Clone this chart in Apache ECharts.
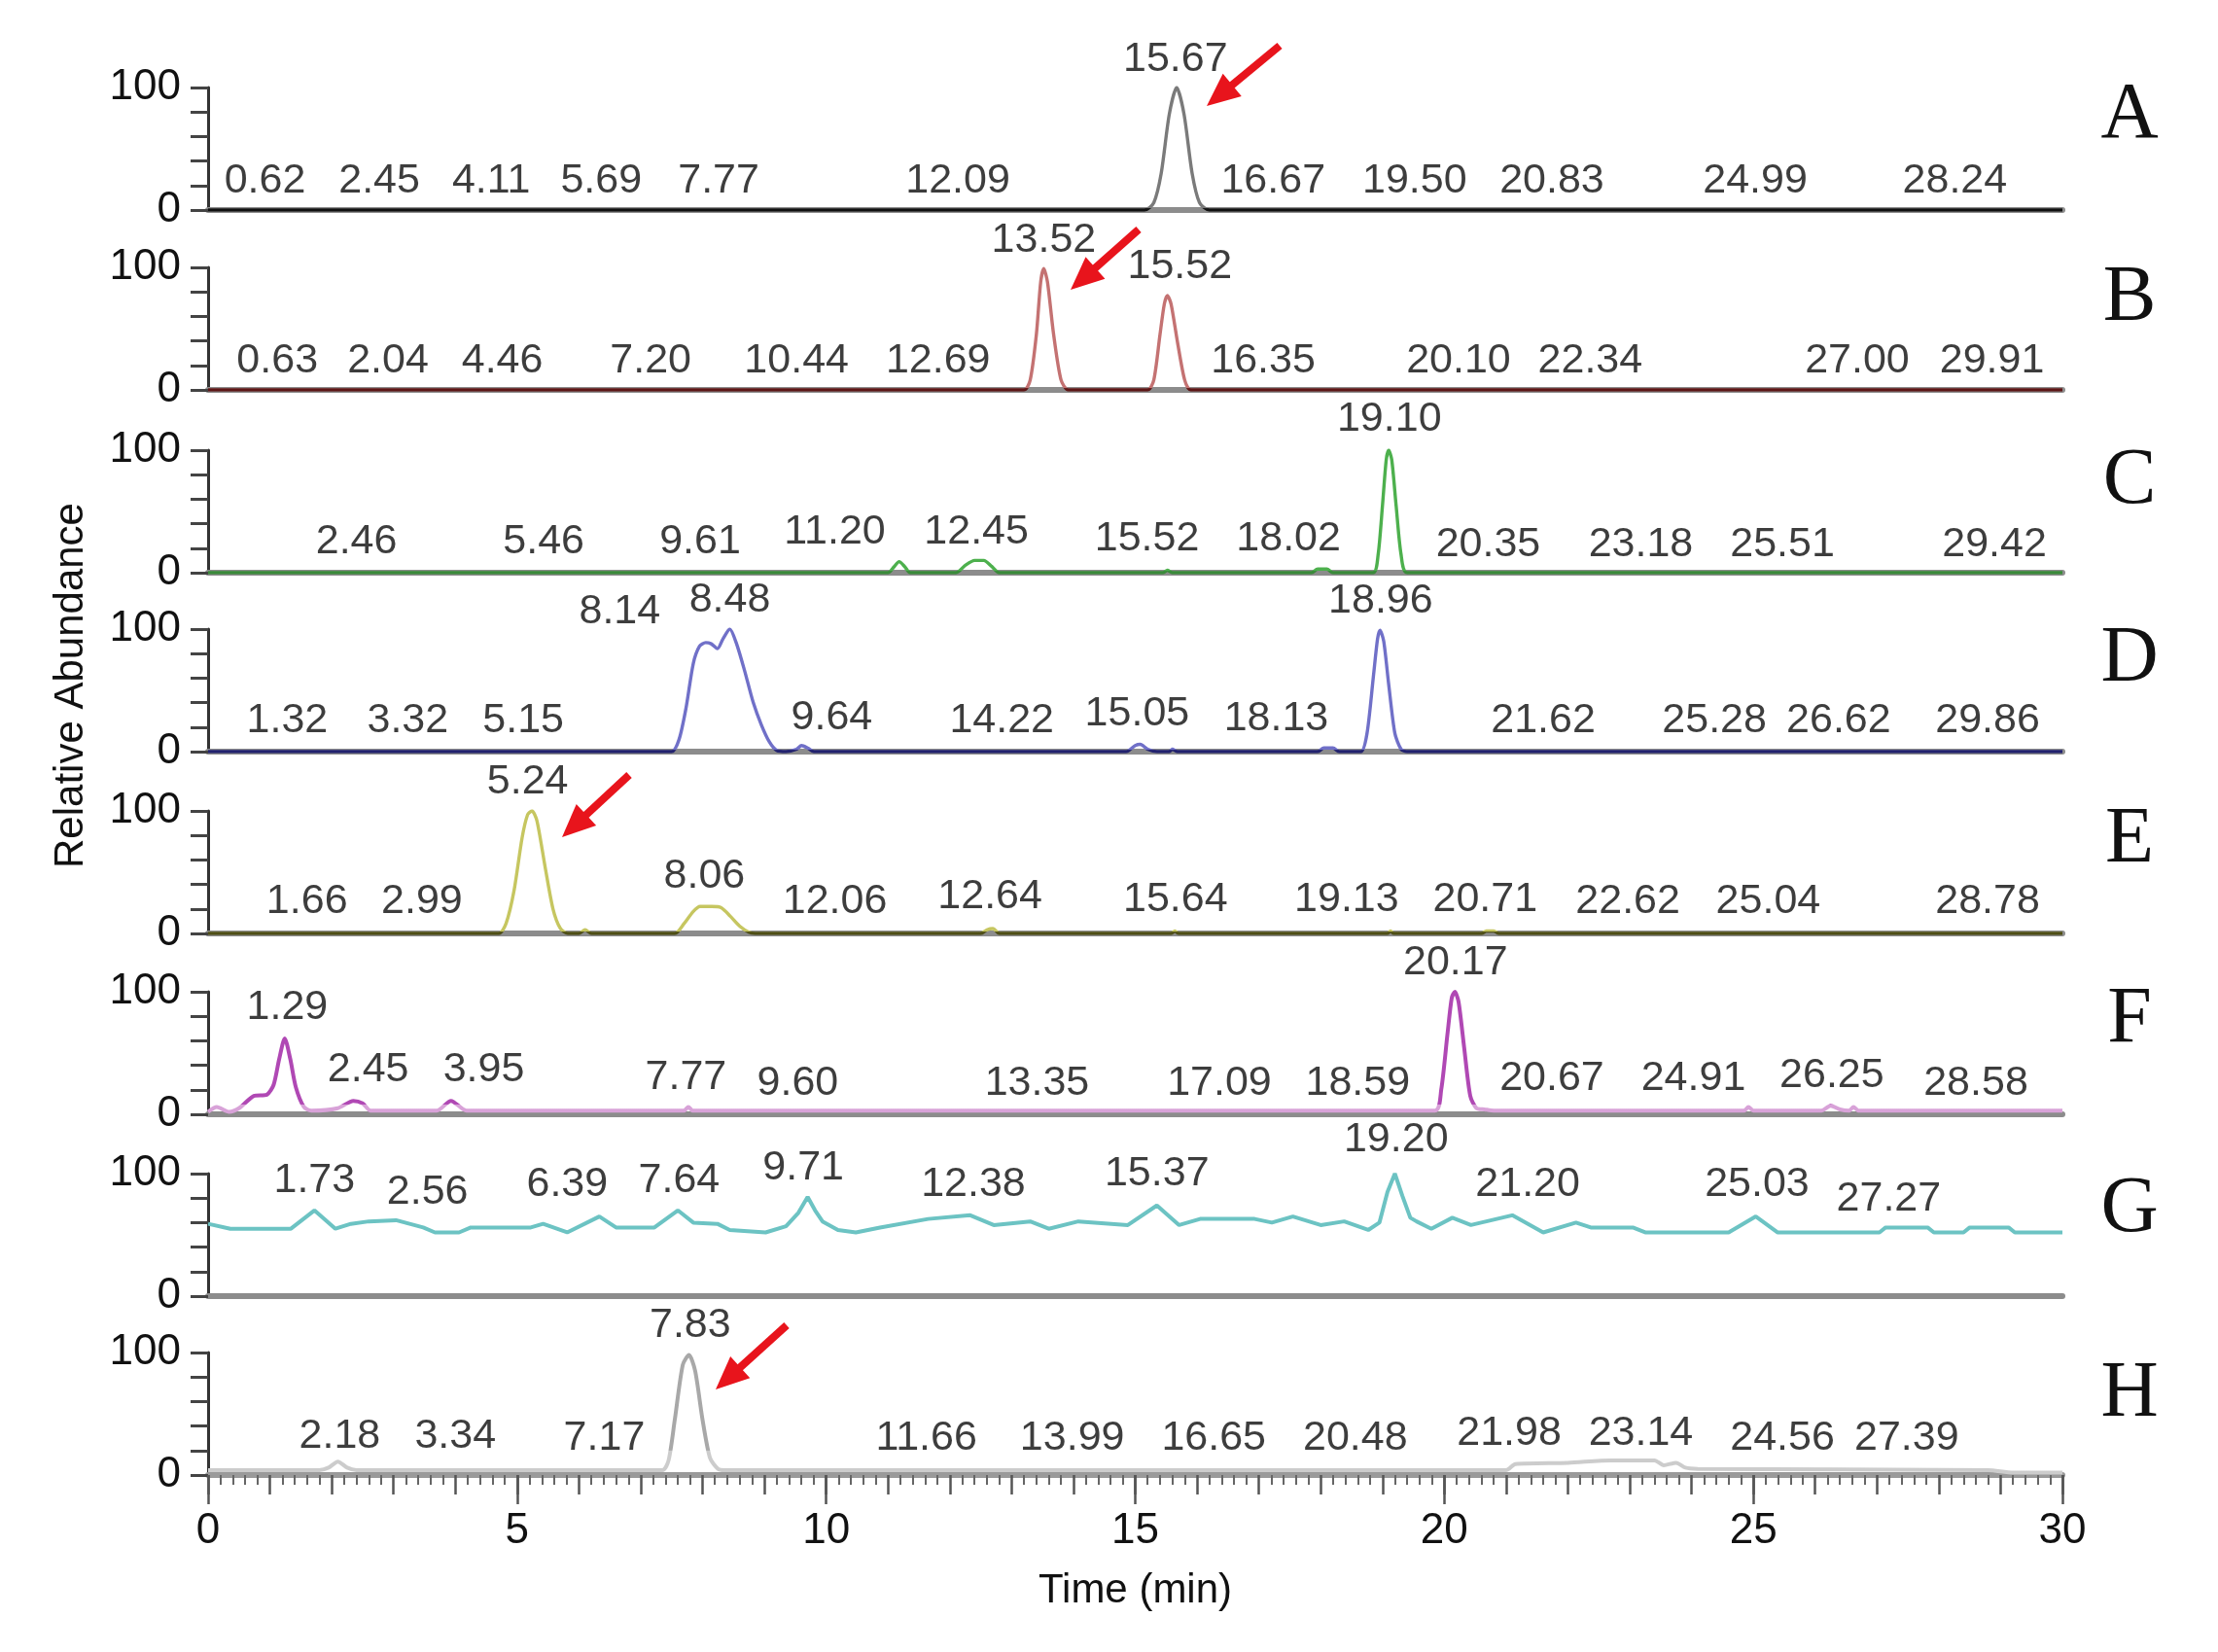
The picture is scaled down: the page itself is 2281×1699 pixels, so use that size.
<!DOCTYPE html>
<html>
<head>
<meta charset="utf-8">
<script src="https://cdn.jsdelivr.net/npm/echarts@6/dist/echarts.min.js"></script>
<style>
html, body { margin: 0; padding: 0; background: #fff; }
#chart { width: 2281px; height: 1699px; }
</style>
</head>
<body>
<div id="chart"></div>
<script>
// panel names and axis ticks
var panelNames = ['A', 'B', 'C', 'D', 'E', 'F', 'G', 'H'];
var timeTicks = [0, 5, 10, 15, 20, 25, 30];
var abundanceTicks = [0, 100];

// chromatogram traces, [time (min), relative abundance]
var traceA = [[0,0],[15.15,0],[15.3,6],[15.42,30],[15.55,78],[15.67,100],[15.79,78],[15.92,30],[16.04,6],[16.2,0],[30,0]];
var traceB = [[0,0],[13.2,0],[13.3,8],[13.4,45],[13.47,88],[13.52,99],[13.58,88],[13.68,45],[13.8,8],[13.92,0],
  [15.2,0],[15.3,8],[15.4,45],[15.47,70],[15.52,77],[15.58,70],[15.68,40],[15.8,8],[15.9,0],[30,0]];
var traceC = [[0,0],[11.0,0],[11.1,5],[11.18,9],[11.27,5],[11.36,0],[12.1,0],[12.25,6],[12.4,10],[12.55,10],[12.68,5],[12.8,0],
  [15.45,0],[15.52,2],[15.6,0],[17.85,0],[17.95,3],[18.1,3],[18.2,0],[18.85,0],[18.93,15],[19.0,55],[19.06,92],[19.1,100],
  [19.15,92],[19.22,55],[19.3,15],[19.4,0],[30,0]];
var traceD = [[0,0],[7.5,0],[7.62,10],[7.73,35],[7.85,72],[7.95,86],[8.05,89],[8.14,88],[8.24,84],[8.33,92],[8.44,100],
  [8.55,88],[8.68,66],[8.82,40],[8.95,22],[9.08,8],[9.2,1],[9.35,0],[9.52,2],[9.6,5],[9.7,3],[9.8,0],[14.85,0],[15.0,5],
  [15.08,6],[15.2,2],[15.35,0],[15.55,0],[15.6,2],[15.68,0],[17.95,0],[18.05,3],[18.2,3],[18.3,0],[18.65,0],[18.75,15],
  [18.85,60],[18.92,92],[18.96,99],[19.02,90],[19.1,55],[19.2,15],[19.3,2],[19.4,0],[30,0]];
var traceE = [[0,0],[4.7,0],[4.82,8],[4.95,35],[5.08,78],[5.17,97],[5.24,100],[5.32,92],[5.45,55],[5.58,20],[5.7,4],[5.82,0],
  [6.0,0],[6.1,3],[6.2,0],[7.55,0],[7.7,8],[7.85,18],[7.96,22],[8.15,22],[8.3,21],[8.45,14],[8.6,6],[8.75,1],[8.85,0],
  [12.5,0],[12.6,3],[12.7,4],[12.8,0],[15.58,0],[15.64,2],[15.7,0],[19.08,0],[19.13,2],[19.18,0],[20.6,0],[20.68,2],
  [20.8,2],[20.88,0],[30,0]];
var traceF = [[0,2],[0.14,6],[0.34,2],[0.5,5],[0.74,15],[0.95,16],[1.06,24],[1.15,45],[1.24,62],[1.33,45],[1.42,22],
  [1.55,6],[1.67,3],[2.1,5],[2.35,11],[2.5,9],[2.63,3],[3.7,3],[3.93,11],[4.18,3],[7.7,3],[7.77,6],[7.84,3],[19.85,3],
  [19.95,20],[20.05,65],[20.12,95],[20.17,100],[20.23,92],[20.32,55],[20.42,15],[20.52,5],[20.65,4],[20.8,3],[24.85,3],
  [24.92,6],[25.0,3],[26.1,3],[26.25,7],[26.4,4],[26.55,3],[26.62,6],[26.7,3],[30,3]];
var traceG = [[0,59],[0.36,55],[1.34,55],[1.72,70],[2.06,55],[2.31,59],[2.6,61],[3.04,62],[3.48,56],[3.67,52],[4.06,52],
  [4.25,56],[5.22,56],[5.42,59],[5.81,52],[6.33,65],[6.6,56],[7.22,56],[7.6,70],[7.85,60],[8.24,59],[8.44,54],[9.02,52],
  [9.35,57],[9.55,68],[9.7,81],[9.82,70],[9.94,61],[10.19,54],[10.48,52],[10.87,56],[11.65,63],[12.33,66],[12.71,58],
  [13.3,61],[13.6,55],[14.08,61],[14.88,58],[15.35,74],[15.71,58],[16.05,63],[16.93,63],[17.21,60],[17.55,65],[18.0,58],
  [18.38,61],[18.77,54],[18.95,60],[19.08,85],[19.2,100],[19.32,82],[19.45,64],[19.55,61],[19.79,55],[20.13,64],
  [20.43,58],[21.1,66],[21.6,52],[22.13,60],[22.37,56],[23.05,56],[23.25,52],[24.6,52],[25.04,65],[25.39,52],[27.04,52],
  [27.14,56],[27.82,56],[27.92,52],[28.4,52],[28.5,56],[29.13,56],[29.23,52],[30,52]];
var traceH = [[0,4],[1.8,4],[1.95,6],[2.1,11],[2.25,6],[2.4,4],[7.35,4],[7.45,12],[7.55,45],[7.68,90],[7.78,98],[7.88,85],
  [8.0,45],[8.12,14],[8.25,5],[8.35,4],[21.0,4],[21.15,9],[22.0,10],[22.7,12],[23.4,12],[23.55,8],[23.75,10],[23.9,6],
  [24.1,5],[28.8,4],[29.2,2],[30,2]];

// retention time labels of each panel
var peaksA = ['0.62','2.45','4.11','5.69','7.77','12.09','15.67','16.67','19.50','20.83','24.99','28.24'];
var peaksB = ['0.63','2.04','4.46','7.20','10.44','12.69','13.52','15.52','16.35','20.10','22.34','27.00','29.91'];
var peaksC = ['2.46','5.46','9.61','11.20','12.45','15.52','18.02','19.10','20.35','23.18','25.51','29.42'];
var peaksD = ['1.32','3.32','5.15','8.14','8.48','9.64','14.22','15.05','18.13','18.96','21.62','25.28','26.62','29.86'];
var peaksE = ['1.66','2.99','5.24','8.06','12.06','12.64','15.64','19.13','20.71','22.62','25.04','28.78'];
var peaksF = ['1.29','2.45','3.95','7.77','9.60','13.35','17.09','18.59','20.17','20.67','24.91','26.25','28.58'];
var peaksG = ['1.73','2.56','6.39','7.64','9.71','12.38','15.37','19.20','21.20','25.03','27.27'];
var peaksH = ['2.18','3.34','7.17','7.83','11.66','13.99','16.65','20.48','21.98','23.14','24.56','27.39'];

// where each label sits (time, abundance) as placed in the figure
var tagX_A = [0.92,2.77,4.58,6.36,8.26,12.13,15.65,17.23,19.52,21.74,25.03,28.26];
var tagY_A = [24,24,24,24,24,24,123,24,24,24,24,24];
var tagX_B = [1.12,2.91,4.76,7.16,9.52,11.81,13.52,15.72,17.07,20.23,22.36,26.68,28.86];
var tagY_B = [24,24,24,24,24,24,122,101,24,24,24,24,24];
var tagX_C = [2.4,5.43,7.96,10.14,12.43,15.19,17.48,19.11,20.71,23.18,25.47,28.9];
var tagY_C = [25,25,25,33,33,28,28,125,23,23,23,23];
var tagX_D = [1.28,3.23,5.1,6.66,8.44,10.09,12.84,15.03,17.28,18.97,21.6,24.37,26.38,28.79];
var tagY_D = [25,25,25,114,124,28,25,31,27,123,25,25,25,25];
var tagX_E = [1.6,3.46,5.17,8.03,10.14,12.65,15.65,18.42,20.66,22.97,25.24,28.79];
var tagY_E = [26,26,124,47,26,30,28,28,28,26,26,26];
var tagX_F = [1.28,2.59,4.46,7.73,9.54,13.41,16.36,18.6,20.18,21.74,24.03,26.27,28.6];
var tagY_F = [87,36,36,30,25,25,25,25,124,29,29,32,25];
var tagX_G = [1.72,3.55,5.81,7.62,9.63,12.38,15.35,19.22,21.35,25.06,27.19];
var tagY_G = [94,85,91,94,105,91,100,128,91,91,79];
var tagX_H = [2.13,4.0,6.41,7.8,11.62,13.98,16.27,18.56,21.05,23.18,25.47,27.48];
var tagY_H = [32,32,30,122,30,30,30,30,34,34,30,30];

var traces = [traceA, traceB, traceC, traceD, traceE, traceF, traceG, traceH];
var peaks = [peaksA, peaksB, peaksC, peaksD, peaksE, peaksF, peaksG, peaksH];
var tagX = [tagX_A, tagX_B, tagX_C, tagX_D, tagX_E, tagX_F, tagX_G, tagX_H];
var tagY = [tagY_A, tagY_B, tagY_C, tagY_D, tagY_E, tagY_F, tagY_G, tagY_H];

// look
var gridTop = [90, 275, 463, 647, 834, 1020, 1207, 1391];
var gridHeight = 126;
var lowColor = ['#111111', '#5e1616', '#3a8a3a', '#22226e', '#4e4e16', '#d8a2d8', '#6cc3c3', '#cccccc'];
var highColor = ['#7a7a7a', '#c47272', '#4db04d', '#7070c8', '#c6c660', '#b048b4', '#6cc3c3', '#a8a8a8'];
var lineWidth = [3.4, 3.4, 3.4, 3.4, 3.4, 4, 4, 4];
var splitAt = [1.5, 1.5, 1.5, 1.5, 1.5, 8, 0, 20];
var sans = '"Liberation Sans", Arial, sans-serif';

var chartDom = document.getElementById('chart');
var myChart = echarts.init(chartDom);

// trace colour: darker along the baseline, lighter on the peaks
function traceColor(i) {
  if (!splitAt[i]) return highColor[i];
  var yb = gridTop[i] + gridHeight;
  var yt = yb - splitAt[i] * gridHeight / 100;
  return new echarts.graphic.LinearGradient(0, yt - 0.5, 0, yt + 0.5, [
    {offset: 0, color: highColor[i]}, {offset: 1, color: lowColor[i]}
  ], true);
}

var grids = [], xAxes = [], yAxes = [], lines = [], tags = [];
for (var i = 0; i < 8; i++) {
  grids.push({left: 214, right: 160, top: gridTop[i], height: gridHeight});
  xAxes.push({
    gridIndex: i, type: 'value', min: 0, max: 30, position: 'bottom',
    axisLine: {show: true, lineStyle: {color: '#8c8c8c', width: 6}},
    axisTick: {show: false}, axisLabel: {show: false}, splitLine: {show: false}
  });
  yAxes.push({
    gridIndex: i, type: 'value', min: 0, max: 100, interval: 20,
    axisLine: {show: true, lineStyle: {color: '#333', width: 3}},
    axisTick: {show: true, length: 18, lineStyle: {color: '#444', width: 3}},
    axisLabel: {
      margin: 28, fontSize: 44, color: '#111', fontFamily: sans,
      formatter: function (v) { return abundanceTicks.indexOf(v) >= 0 ? String(v) : ''; }
    },
    splitLine: {show: false}
  });
  lines.push({
    type: 'line', xAxisIndex: i, yAxisIndex: i, data: traces[i],
    showSymbol: false, smooth: i === 6 ? false : 0.25, silent: true, z: 3,
    lineStyle: {width: lineWidth[i], color: traceColor(i)}
  });
  var pts = [];
  for (var k = 0; k < peaks[i].length; k++) {
    pts.push({name: peaks[i][k], value: [tagX[i][k], tagY[i][k]]});
  }
  tags.push({
    type: 'scatter', xAxisIndex: i, yAxisIndex: i, data: pts, clip: false, silent: true, z: 5,
    symbol: 'circle', symbolSize: 1, itemStyle: {color: 'transparent'},
    label: {show: true, position: 'inside', formatter: '{b}', fontSize: 43, color: '#0d0d0d', fontFamily: sans}
  });
}

// bottom panel: 1-min ticks with minor ticks, then 5-min ticks with labels
xAxes[7].axisLine.lineStyle.color = '#9a9a9a';
xAxes[7].axisTick = {show: true, length: 20, lineStyle: {color: '#555', width: 2.5}};
xAxes[7].interval = 1;
xAxes[7].minorTick = {show: true, splitNumber: 5, length: 10, lineStyle: {color: '#666', width: 2}};
xAxes.push({
  gridIndex: 7, type: 'value', min: 0, max: 30, interval: 5, position: 'bottom',
  axisLine: {show: false},
  axisTick: {show: true, length: 30, lineStyle: {color: '#555', width: 2.5}},
  axisLabel: {
    margin: 36, fontSize: 44, color: '#111', fontFamily: sans,
    formatter: function (v) { return timeTicks.indexOf(v) >= 0 ? String(v) : ''; }
  },
  splitLine: {show: false},
  name: 'Time (min)', nameLocation: 'middle', nameGap: 98,
  nameTextStyle: {fontSize: 42, color: '#111', fontFamily: sans}
});

function arrow(x1, y1, x2, y2) {
  var dx = x2 - x1, dy = y2 - y1, len = Math.sqrt(dx * dx + dy * dy);
  var ux = dx / len, uy = dy / len, hl = 34, hw = 15;
  var bx = x2 - ux * hl, by = y2 - uy * hl;
  return [
    {type: 'line', shape: {x1: x1, y1: y1, x2: bx + ux * 3, y2: by + uy * 3}, style: {stroke: '#e8141c', lineWidth: 8}},
    {type: 'polygon', shape: {points: [[x2, y2], [bx - uy * hw, by + ux * hw], [bx + uy * hw, by - ux * hw]]}, style: {fill: '#e8141c'}}
  ];
}

var letterY = [119, 307, 495, 678, 864, 1049, 1244, 1434];
var graphics = [{
  type: 'text', x: 73, y: 705, rotation: Math.PI / 2,
  style: {text: 'Relative Abundance', font: '42px ' + sans, fill: '#111', align: 'center', verticalAlign: 'middle'}
}];
for (var j = 0; j < 8; j++) {
  graphics.push({
    type: 'text', x: 2190, y: letterY[j],
    style: {text: panelNames[j], font: '82px "Liberation Serif", "Times New Roman", serif', fill: '#111', align: 'center', verticalAlign: 'middle'}
  });
}
graphics = graphics.concat(arrow(1316, 47, 1241, 109), arrow(1171, 236, 1101, 298),
  arrow(647, 797, 578, 861), arrow(809, 1363, 736, 1429));

var option = {
  animation: false,
  backgroundColor: '#fff',
  grid: grids,
  xAxis: xAxes,
  yAxis: yAxes,
  series: lines.concat(tags),
  graphic: graphics
};
option && myChart.setOption(option);
</script>
</body>
</html>
